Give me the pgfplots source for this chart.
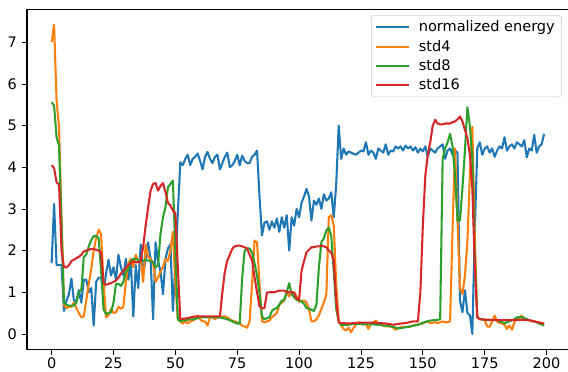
\documentclass[border=0pt]{standalone}
\usepackage{fontspec}
\setmainfont{DejaVu Sans}
\usepackage{pgfplots}
\pgfplotsset{compat=1.18}
\definecolor{tabblue}{HTML}{1F77B4}
\definecolor{taborange}{HTML}{FF7F0E}
\definecolor{tabgreen}{HTML}{2CA02C}
\definecolor{tabred}{HTML}{D62728}
\begin{document}
\begin{tikzpicture}
\useasboundingbox (-20.25pt,-16.3pt) rectangle (405.75pt,262pt);
\begin{axis}[
  at={(0,0)}, anchor=south west,
  scale only axis, width=406.3pt, height=255pt,
  xmin=-9.95, xmax=208.95, ymin=-0.37, ymax=7.79,
  xtick={0,25,...,200}, ytick={0,1,...,7},
  xtick pos=bottom, ytick pos=left,
  tick align=outside, major tick length=4.1pt,
  every tick/.style={black, line width=0.6pt},
  axis line style={black, line width=0.8pt},
  /pgf/number format/assume math mode=true,
  tick label style={font=\fontsize{10.9}{13}\selectfont},
  xticklabel style={inner sep=1.8pt},
  every axis plot/.append style={line width=1.55pt, line join=round, no markers},
  legend style={at={(1,1)}, anchor=north east, xshift=-5.25pt, yshift=-4.5pt,
    draw=black!20, rounded corners=2pt, fill=white, fill opacity=0.8, text opacity=1,
    font=\fontsize{10.9}{13}\selectfont, row sep=0.6pt, inner xsep=3pt, inner ysep=2pt},
  legend cell align=left,
  legend image code/.code={\draw[#1] (0pt,0pt) -- (24.5pt,0pt); \path (29pt,0pt);},
]
\addplot[tabblue] coordinates {
(0,1.70)(1,3.12)(2,1.65)(3,1.65)(4,1.65)(5,0.55)(6,0.80)(7,0.95)(8,1.33)(9,0.80)
(10,0.78)(11,1.05)(12,0.75)(13,1.30)(14,1.30)(15,1.00)(16,1.10)(17,0.20)(18,1.25)(19,1.35)
(20,1.35)(21,1.00)(22,1.45)(23,1.78)(24,1.40)(25,1.60)(26,1.30)(27,1.90)(28,1.60)(29,1.40)
(30,1.80)(31,1.30)(32,1.75)(33,0.42)(34,1.65)(35,1.10)(36,2.15)(37,1.45)(38,1.80)(39,2.20)
(40,1.80)(41,0.35)(42,2.20)(43,1.75)(44,1.50)(45,0.95)(46,1.80)(47,2.05)(48,2.15)(49,0.55)
(50,1.70)(51,2.90)(52,4.12)(53,4.05)(54,4.20)(55,4.30)(56,4.05)(57,4.20)(58,4.25)(59,4.33)
(60,4.15)(61,3.95)(62,4.25)(63,4.37)(64,4.20)(65,4.10)(66,4.25)(67,4.30)(68,3.95)(69,4.10)
(70,4.25)(71,4.35)(72,4.00)(73,4.05)(74,4.15)(75,4.30)(76,4.05)(77,4.28)(78,4.15)(79,4.10)
(80,4.10)(81,4.25)(82,4.30)(83,4.40)(84,3.30)(85,2.36)(86,2.67)(87,2.70)(88,2.50)(89,2.70)
(90,2.55)(91,2.77)(92,2.45)(93,2.80)(94,2.55)(95,2.85)(96,2.00)(97,2.80)(98,2.60)(99,3.00)
(100,2.80)(101,3.15)(102,3.30)(103,3.48)(104,3.30)(105,2.72)(106,3.20)(107,3.10)(108,3.25)(109,3.00)
(110,3.35)(111,3.20)(112,3.25)(113,3.40)(114,2.80)(115,3.60)(116,5.00)(117,4.20)(118,4.45)(119,4.30)
(120,4.38)(121,4.35)(122,4.32)(123,4.30)(124,4.35)(125,4.40)(126,4.38)(127,4.60)(128,4.30)(129,4.40)
(130,4.35)(131,4.20)(132,4.45)(133,4.40)(134,4.35)(135,4.55)(136,4.30)(137,4.40)(138,4.38)(139,4.50)
(140,4.45)(141,4.50)(142,4.40)(143,4.52)(144,4.45)(145,4.50)(146,4.40)(147,4.48)(148,4.35)(149,4.45)
(150,4.38)(151,4.50)(152,4.25)(153,4.45)(154,4.40)(155,4.35)(156,4.45)(157,4.50)(158,4.55)(159,4.20)
(160,4.40)(161,4.45)(162,4.30)(163,4.40)(164,4.35)(165,0.80)(166,0.52)(167,1.05)(168,0.50)(169,0.45)
(170,0.00)(171,2.50)(172,4.45)(173,4.60)(174,4.30)(175,4.45)(176,4.50)(177,4.35)(178,4.45)(179,4.25)
(180,4.40)(181,4.50)(182,4.45)(183,4.72)(184,4.40)(185,4.50)(186,4.55)(187,4.45)(188,4.60)(189,4.55)
(190,4.50)(191,4.65)(192,4.24)(193,4.45)(194,4.40)(195,4.78)(196,4.35)(197,4.50)(198,4.55)(199,4.80)
};
\addlegendentry{normalized energy\hspace{3pt}}
\addplot[taborange] coordinates {
(0,7.00)(1,7.42)(2,5.60)(3,4.95)(4,2.80)(5,0.70)(6,0.62)(7,0.65)(8,0.65)(9,0.75)
(10,0.62)(11,0.50)(12,0.40)(13,0.42)(14,0.80)(15,1.20)(16,1.55)(17,2.00)(18,2.30)(19,2.50)
(20,2.40)(21,1.20)(22,0.40)(23,0.45)(24,0.60)(25,0.50)(26,0.52)(27,0.65)(28,0.60)(29,0.65)
(30,1.25)(31,1.70)(32,1.80)(33,1.60)(34,1.90)(35,1.75)(36,1.80)(37,1.25)(38,2.15)(39,1.85)
(40,1.80)(41,1.70)(42,1.25)(43,1.35)(44,1.50)(45,1.60)(46,1.80)(47,1.75)(48,2.00)(49,2.45)
(50,1.20)(51,0.35)(52,0.30)(53,0.25)(54,0.30)(55,0.25)(56,0.30)(57,0.32)(58,0.35)(59,0.44)
(60,0.35)(61,0.30)(62,0.30)(63,0.20)(64,0.40)(65,0.40)(66,0.35)(67,0.40)(68,0.40)(69,0.42)
(70,0.42)(71,0.40)(72,0.35)(73,0.32)(74,0.30)(75,0.28)(76,0.25)(77,0.20)(78,0.18)(79,0.15)
(80,0.30)(81,1.20)(82,2.24)(83,2.20)(84,1.20)(85,0.30)(86,0.28)(87,0.30)(88,0.32)(89,0.40)
(90,0.45)(91,0.50)(92,0.70)(93,0.75)(94,0.80)(95,0.99)(96,0.90)(97,1.00)(98,1.00)(99,0.90)
(100,0.77)(101,0.80)(102,0.80)(103,0.75)(104,0.60)(105,0.30)(106,0.30)(107,0.35)(108,0.45)(109,0.60)
(110,0.75)(111,0.95)(112,2.80)(113,2.85)(114,2.60)(115,1.20)(116,0.30)(117,0.20)(118,0.12)(119,0.08)
(120,0.15)(121,0.04)(122,0.15)(123,0.22)(124,0.28)(125,0.25)(126,0.22)(127,0.25)(128,0.12)(129,0.25)
(130,0.28)(131,0.32)(132,0.25)(133,0.22)(134,0.20)(135,0.18)(136,0.18)(137,0.18)(138,0.15)(139,0.10)
(140,0.14)(141,0.16)(142,0.17)(143,0.17)(144,0.17)(145,0.18)(146,0.20)(147,0.22)(148,0.22)(149,0.24)
(150,0.25)(151,0.28)(152,0.30)(153,0.26)(154,0.27)(155,0.28)(156,0.26)(157,0.28)(158,0.30)(159,0.28)
(160,0.28)(161,0.30)(162,2.50)(163,4.45)(164,2.70)(165,1.10)(166,0.96)(167,1.40)(168,2.20)(169,3.80)
(170,4.97)(171,2.30)(172,0.40)(173,0.36)(174,0.35)(175,0.33)(176,0.18)(177,0.17)(178,0.30)(179,0.44)
(180,0.30)(181,0.26)(182,0.25)(183,0.22)(184,0.12)(185,0.20)(186,0.10)(187,0.28)(188,0.36)(189,0.38)
(190,0.44)(191,0.36)(192,0.34)(193,0.32)(194,0.30)(195,0.30)(196,0.29)(197,0.28)(198,0.26)(199,0.25)
};
\addlegendentry{std4}
\addplot[tabgreen] coordinates {
(0,5.56)(1,5.48)(2,4.72)(3,4.52)(4,2.60)(5,0.75)(6,0.70)(7,0.68)(8,0.68)(9,0.68)
(10,0.75)(11,1.00)(12,1.05)(13,1.85)(14,1.90)(15,2.10)(16,2.25)(17,2.35)(18,2.35)(19,2.30)
(20,1.50)(21,0.58)(22,0.48)(23,0.50)(24,0.52)(25,0.75)(26,1.20)(27,1.20)(28,1.15)(29,1.25)
(30,1.50)(31,1.55)(32,1.75)(33,1.80)(34,1.80)(35,1.78)(36,1.75)(37,1.75)(38,1.78)(39,1.76)
(40,1.75)(41,1.72)(42,1.60)(43,1.65)(44,2.40)(45,2.80)(46,3.04)(47,3.52)(48,3.60)(49,3.68)
(50,2.00)(51,0.35)(52,0.30)(53,0.32)(54,0.33)(55,0.34)(56,0.35)(57,0.35)(58,0.36)(59,0.38)
(60,0.40)(62,0.40)(64,0.40)(66,0.40)(68,0.40)(69,0.38)(70,0.37)(71,0.35)(72,0.33)(73,0.30)
(74,0.27)(75,0.25)(76,0.25)(77,1.35)(78,2.00)(79,2.05)(80,2.05)(81,1.95)(82,1.70)(83,1.40)
(84,0.99)(85,0.42)(86,0.35)(87,0.38)(88,0.40)(89,0.55)(90,0.60)(91,0.62)(92,0.70)(93,0.80)
(94,0.82)(95,1.00)(96,1.22)(97,0.95)(98,0.88)(99,0.82)(100,0.80)(101,0.78)(102,0.72)(103,0.62)
(104,0.60)(105,0.58)(106,0.55)(107,0.70)(108,1.60)(109,2.20)(110,2.30)(111,2.48)(112,2.55)(113,2.35)
(114,1.50)(115,0.60)(116,0.30)(117,0.22)(118,0.22)(120,0.22)(122,0.24)(125,0.24)(128,0.23)(130,0.23)
(133,0.21)(135,0.20)(138,0.17)(140,0.13)(142,0.15)(145,0.18)(148,0.22)(150,0.27)(153,0.32)(156,0.34)
(157,0.35)(158,4.20)(159,4.45)(160,4.60)(161,4.80)(162,4.50)(163,3.80)(164,2.72)(165,2.72)(166,3.50)
(167,4.40)(168,5.44)(169,5.00)(170,4.20)(171,1.80)(172,0.40)(173,0.36)(175,0.34)(178,0.33)(180,0.33)
(182,0.28)(183,0.26)(185,0.30)(187,0.35)(188,0.40)(190,0.40)(191,0.38)(193,0.33)(195,0.30)(197,0.25)
(199,0.20)
};
\addlegendentry{std8}
\addplot[tabred] coordinates {
(0,4.05)(1,3.98)(2,3.64)(3,3.58)(4,2.00)(5,1.60)(6,1.60)(7,1.65)(8,1.75)(9,1.78)
(10,1.82)(11,1.85)(12,1.90)(13,1.98)(14,2.00)(15,2.02)(16,2.04)(17,2.04)(18,2.02)(19,2.00)
(20,1.95)(21,1.22)(22,1.18)(23,1.20)(24,1.22)(25,1.25)(26,1.28)(27,1.35)(28,1.45)(29,1.50)
(30,1.60)(31,1.65)(32,1.70)(33,1.75)(34,1.72)(35,1.72)(36,1.75)(37,2.10)(38,2.60)(39,3.04)
(40,3.44)(41,3.60)(42,3.62)(43,3.44)(44,3.55)(45,3.62)(46,3.40)(47,3.15)(48,3.08)(49,2.96)
(50,2.90)(51,1.60)(52,0.35)(53,0.36)(55,0.38)(58,0.42)(60,0.42)(63,0.42)(66,0.42)(68,0.42)
(69,1.00)(70,1.50)(71,1.76)(72,1.90)(73,2.04)(74,2.10)(75,2.12)(76,2.12)(77,2.10)(78,2.08)
(79,2.05)(80,1.90)(81,1.76)(82,1.36)(83,1.00)(84,0.66)(85,0.62)(86,0.62)(87,0.99)(88,1.00)
(89,1.00)(90,1.00)(91,1.02)(92,1.04)(93,1.04)(94,1.04)(95,1.00)(96,1.00)(97,1.00)(98,0.98)
(99,0.84)(100,0.82)(101,1.52)(102,1.75)(103,1.96)(104,2.02)(105,2.08)(106,2.08)(107,2.10)(108,2.10)
(109,2.12)(110,2.10)(111,2.08)(112,2.00)(113,1.95)(114,1.75)(115,0.80)(116,0.28)(117,0.26)(120,0.25)
(125,0.27)(130,0.27)(135,0.25)(138,0.22)(140,0.24)(143,0.26)(146,0.30)(148,0.30)(149,1.00)(150,2.60)
(151,3.80)(152,4.30)(153,4.60)(154,5.00)(155,5.14)(156,5.05)(157,5.03)(158,5.03)(159,5.05)(160,5.05)
(161,5.05)(162,5.08)(163,5.10)(164,5.15)(165,5.22)(166,5.10)(167,4.90)(168,4.70)(169,4.30)(170,3.50)
(171,1.60)(172,0.40)(173,0.35)(180,0.33)(185,0.33)(190,0.34)(193,0.33)(195,0.30)(197,0.27)(199,0.25)
};
\addlegendentry{std16}
\end{axis}
\end{tikzpicture}
\end{document}
